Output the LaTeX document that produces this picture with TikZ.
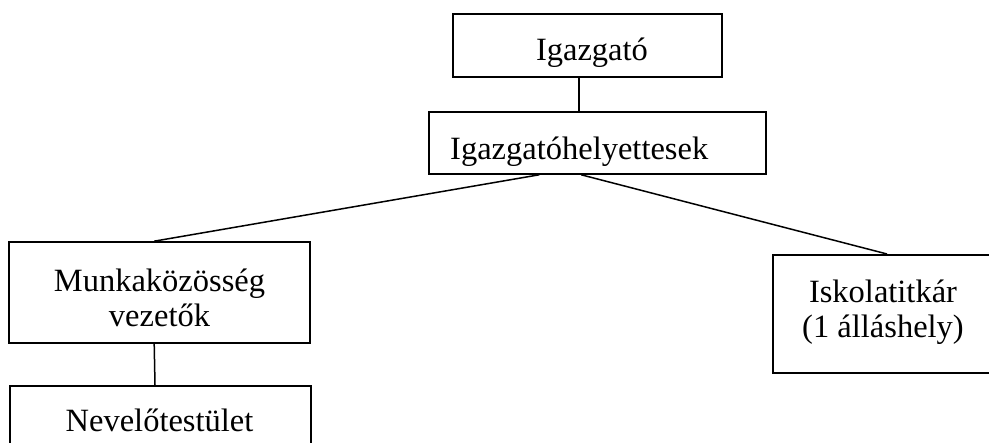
\documentclass[tikz,border=0pt]{standalone}
\usepackage{fontspec}
\setmainfont{Liberation Serif}
\usetikzlibrary{calc}
\begin{document}
\begin{tikzpicture}[x=1pt,y=1pt,
  box/.style={draw=black,line width=1.6pt,rectangle,inner sep=0pt},
  lbl/.style={inner sep=0pt,font=\fontsize{32.5}{35}\selectfont,align=center},
  conn/.style={draw=black,line width=1.5pt}]
\useasboundingbox (0,0) rectangle (989,443);
\clip (0,0) rectangle (989,443);
% boxes
\node[box,minimum width=269pt,minimum height=63pt] (igz) at (587.5,397.5) {};
\node[box,minimum width=337pt,minimum height=62pt] (hely) at (597.5,300) {};
\node[box,minimum width=301pt,minimum height=101pt] (munk) at (159.5,150.5) {};
\node[box,anchor=north west,minimum width=301pt,minimum height=90pt] (nev) at (9,58) {};
\node[box,anchor=north west,minimum width=240pt,minimum height=118pt] (isk) at (772,189) {};
% texts
\node[lbl,anchor=base] (tigz) at (592,382) {Igazgató};
\node[lbl,anchor=base west] (thely) at (450,283) {Igazgatóhelyettesek};
\node[lbl,anchor=base] (tmunk) at (159.5,116) {Munkaközösség\\vezetők};
\node[lbl,anchor=base] (tnev) at (159.5,11) {Nevelőtestület};
\node[lbl,anchor=base] (tisk) at (883,105) {Iskolatitkár\\(1 álláshely)};
% connectors
\coordinate (igzb) at ($(igz.south west)+(127,0)$);
\coordinate (helyt) at ($(hely.north west)+(151,0)$);
\coordinate (helyl) at ($(hely.south west)+(111,0)$);
\coordinate (helyr) at ($(hely.south west)+(153,0)$);
\coordinate (munkt) at ($(munk.north west)+(146,0)$);
\coordinate (munkb) at ($(munk.south west)+(146,0)$);
\coordinate (nevt) at ($(nev.north west)+(146,0)$);
\coordinate (iskt) at ($(isk.north west)+(115,0)$);
\draw[conn] (igzb) -- (helyt);
\draw[conn] (helyl) -- (munkt);
\draw[conn] (helyr) -- (iskt);
\draw[conn] (munkb) -- (nevt);
\end{tikzpicture}
\end{document}
